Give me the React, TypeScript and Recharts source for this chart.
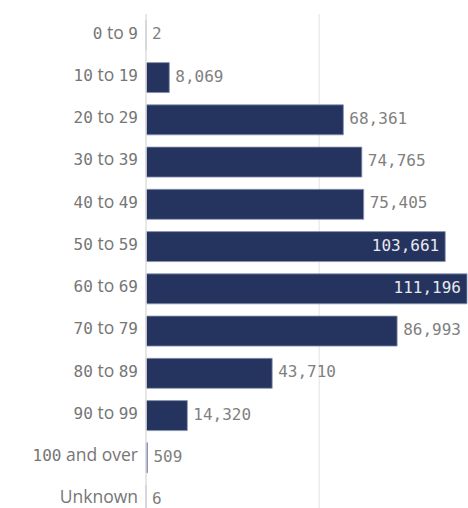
import React from "react";
import { BarChart, Bar, XAxis, YAxis, CartesianGrid, LabelList } from "recharts";

const ageGroups = [
  "0 to 9",
  "10 to 19",
  "20 to 29",
  "30 to 39",
  "40 to 49",
  "50 to 59",
  "60 to 69",
  "70 to 79",
  "80 to 89",
  "90 to 99",
  "100 and over",
  "Unknown",
];
const counts = [2, 8069, 68361, 74765, 75405, 103661, 111196, 86993, 43710, 14320, 509, 6];
const xTicks = [0, 60000];

const data = ageGroups.map((group, i) => ({ group, count: counts[i] }));

const CHART_W = 468;
const CHART_H = 521;
const BAR_COLOR = "#25345f";
const MONO = "'DejaVu Sans Mono', monospace";
const SANS = "'Open Sans', sans-serif";

// digits in a mono face, words in a sans face
const AgeTick = (props: any) => {
  const { x, y, payload } = props;
  const parts = String(payload.value).split(/(\d+)/).filter((p) => p.length > 0);
  return (
    <text x={x} y={y} dy={3.5} textAnchor="end" fill="#767676">
      {parts.map((p, i) =>
        /\d/.test(p) ? (
          <tspan key={i} fontFamily={MONO} fontSize={16}>
            {p}
          </tspan>
        ) : (
          <tspan key={i} fontFamily={SANS} fontSize={17.5}>
            {p}
          </tspan>
        )
      )}
    </text>
  );
};

const ValueLabel = (props: any) => {
  const { x, y, width, height, value } = props;
  const text = Number(value).toLocaleString("en-US");
  const textW = text.length * 9.6;
  const inside = x + width + 6 + textW > CHART_W;
  return (
    <text
      x={inside ? x + width - 6 : x + width + 6}
      y={y + height / 2}
      dy={4}
      textAnchor={inside ? "end" : "start"}
      fill={inside ? "#e8e8ee" : "#7f7f7f"}
      fontFamily={MONO}
      fontSize={16}
    >
      {text}
    </text>
  );
};

const maxCount = Math.max(...counts);

export default function App() {
  return (
    <div style={{ position: "absolute", left: 0, top: 0, width: CHART_W, height: 508, overflow: "hidden", background: "#fff" }}>
      <BarChart
        width={CHART_W}
        height={CHART_H}
        data={data}
        layout="vertical"
        margin={{ top: 14, right: 1, bottom: 0, left: 0 }}
        barCategoryGap="15%"
      >
        <CartesianGrid
          horizontal={false}
          stroke="#ececec"
          strokeWidth={1.5}
          verticalCoordinatesGenerator={(args: any) => {
            const { xAxis, offset } = args;
            if (xAxis && typeof xAxis.scale === "function") {
              return xTicks.map((t) => xAxis.scale(t));
            }
            return xTicks.map((t) => offset.left + (t / maxCount) * offset.width);
          }}
        />
        <XAxis type="number" domain={[0, "dataMax"]} ticks={xTicks} hide />
        <YAxis
          type="category"
          dataKey="group"
          width={146}
          tickLine={false}
          tickSize={0}
          tickMargin={8}
          axisLine={{ stroke: "#e3e3e3", strokeWidth: 1.5 }}
          tick={<AgeTick />}
          interval={0}
        />
        <Bar dataKey="count" fill={BAR_COLOR} stroke="#8a94b2" strokeWidth={0.8} isAnimationActive={false}>
          <LabelList dataKey="count" content={<ValueLabel />} />
        </Bar>
      </BarChart>
    </div>
  );
}
